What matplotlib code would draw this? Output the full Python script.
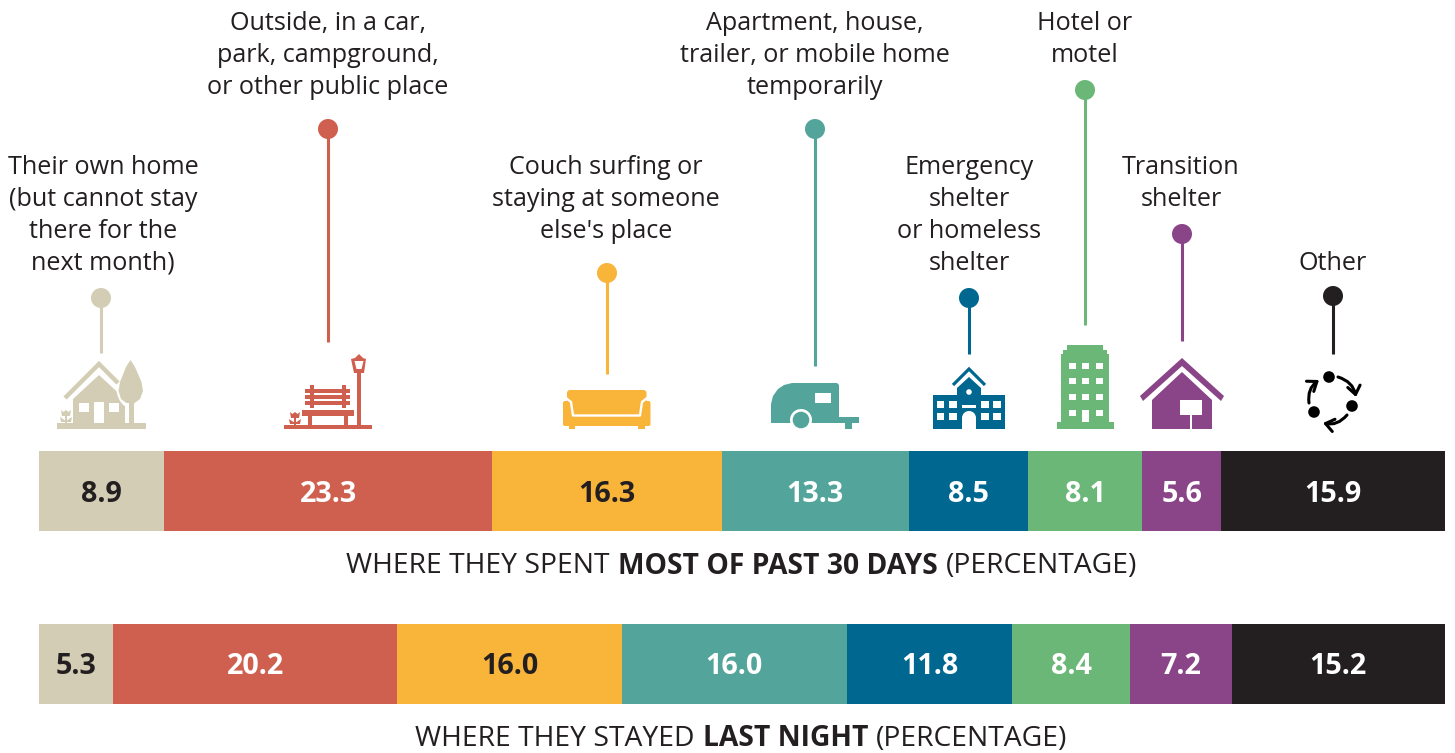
import numpy as np
import matplotlib
matplotlib.use("Agg")
import matplotlib.pyplot as plt
from matplotlib.patches import Rectangle, Polygon, Circle, Ellipse, FancyArrowPatch, FancyBboxPatch

plt.rcParams["font.family"] = ["Open Sans", "Noto Sans", "DejaVu Sans"]

# values
past_30_days = [8.9, 23.3, 16.3, 13.3, 8.5, 8.1, 5.6, 15.9]
last_night = [5.3, 20.2, 16.0, 16.0, 11.8, 8.4, 7.2, 15.2]
labels = [
    "Their own home\n(but cannot stay\nthere for the\nnext month)",
    "Outside, in a car,\npark, campground,\nor other public place",
    "Couch surfing or\nstaying at someone\nelse's place",
    "Apartment, house,\ntrailer, or mobile home\ntemporarily",
    "Emergency\nshelter\nor homeless\nshelter",
    "Hotel or\nmotel",
    "Transition\nshelter",
    "Other",
]
colors = ["#D3CDB5", "#CF5F4E", "#F9B43A", "#53A59C", "#006890", "#6AB777", "#8A4488", "#231F20"]
value_colors = ["#231F20", "white", "#231F20", "white", "white", "white", "white", "white"]

# layout in pixels of the picture
stem_x = [101, 328, 607, 815, 969, 1085, 1182, 1333]
stem_top = [298, 129, 273, 129, 298, 90, 234, 296]
stem_bottom = [353, 342, 374, 366, 354, 325, 341, 354]
label_x = [103, 328, 606, 815, 969, 1085, 1181, 1333]
label_first_line = [167, 23, 167, 23, 167, 23, 167, 263]
LINE_H = 32
X0 = 39
BAR_W = 1406
TEXT_SIZE = 18.05
CAPTION_SIZE = 20.3
INK = "#231F20"

fig = plt.figure(figsize=(14.55, 7.53), dpi=100)
ax = fig.add_axes([0, 0, 1, 1])
ax.set_xlim(0, 1455)
ax.set_ylim(753, 0)
ax.axis("off")


def stacked(values, y, h):
    left = X0
    scale = BAR_W / sum(values)
    for v, c, tc in zip(values, colors, value_colors):
        w = v * scale
        ax.barh(y, w, height=h, left=left, color=c, linewidth=0)
        ax.text(left + w / 2, y + 3, f"{v:.1f}", ha="center", va="center",
                fontsize=20.7, fontweight="bold", color=tc)
        left += w


def caption(parts, cy, center):
    # normal / bold / normal pieces, centred together
    r = fig.canvas.get_renderer()
    items = [ax.text(0, cy, s, fontsize=CAPTION_SIZE, fontweight=w, color=INK, va="center")
             for s, w in parts]
    space = 8
    widths = [t.get_window_extent(r).width for t in items]
    x = center - (sum(widths) + space * (len(items) - 1)) / 2
    for t, w in zip(items, widths):
        t.set_x(x)
        x += w + space


def rect(x0, y0, x1, y1, c):
    ax.add_patch(Rectangle((x0, y0), x1 - x0, y1 - y0, facecolor=c, linewidth=0))


def poly(pts, c):
    ax.add_patch(Polygon(pts, closed=True, facecolor=c, linewidth=0))


def chevron(pts, c, lw):
    ax.plot([p[0] for p in pts], [p[1] for p in pts], color=c, lw=lw,
            solid_joinstyle="miter", solid_capstyle="butt")


def flower(cx, top, bottom, c):
    poly([(cx - 5, top), (cx - 2.5, top + 2), (cx, top), (cx + 2.5, top + 2), (cx + 5, top),
          (cx + 4, top + 6), (cx - 4, top + 6)], c)
    rect(cx - 0.8, top + 5, cx + 0.8, bottom, c)
    poly([(cx - 6, top + 7), (cx, bottom - 2), (cx + 6, top + 7), (cx + 5, bottom - 1), (cx - 5, bottom - 1)], c)


def icon_home(c):
    rect(57, 423, 146, 429, c)
    chevron([(65, 398), (99, 364), (118, 383)], c, 3.2)
    poly([(99, 375), (73, 399), (73, 423), (125, 423), (125, 399)], c)
    rect(79, 403, 89, 412, "white")
    rect(94, 402, 104, 423, "white")
    rect(109, 403, 119, 412, "white")
    ax.add_patch(Ellipse((130.5, 385), 29, 46, facecolor="white", linewidth=0))
    poly([(130.5, 360), (126, 367), (120, 382), (118.5, 391), (121, 399), (127, 403.5), (134, 403.5),
          (140, 399), (143, 391), (141.5, 382), (135, 367)], c)
    rect(125, 403, 129, 423, "white")
    rect(129, 403, 134, 423, c)
    flower(66, 410, 423, c)


def icon_bench(c):
    rect(284, 425, 372, 429, c)
    rect(357, 373, 361, 425, c)
    poly([(355, 358), (359, 354), (363, 358), (366, 359), (364, 373), (354, 373), (351, 359)], c)
    poly([(354.5, 361), (363.5, 361), (361.5, 369), (356.5, 369)], "white")
    for y0 in (389, 395, 401):
        rect(305, y0, 350, y0 + 4, c)
    rect(310, 385, 314, 408, c)
    rect(342, 385, 346, 408, c)
    rect(302, 410, 354, 416, c)
    rect(308, 416, 312, 425, c)
    rect(344, 416, 348, 425, c)
    flower(295, 412, 425, c)


def icon_sofa(c):
    ax.add_patch(FancyBboxPatch((567, 390), 79.5, 26, boxstyle="round,pad=0,rounding_size=3",
                                facecolor=c, linewidth=0))
    ax.add_patch(FancyBboxPatch((563, 401), 87.5, 25, boxstyle="round,pad=0,rounding_size=2",
                                facecolor=c, linewidth=0))
    ax.plot([566, 571, 573, 640, 642, 647], [398, 402, 415.5, 415.5, 402, 398], color="white", lw=1.7)
    rect(569, 426, 575, 429, c)
    rect(638, 426, 645, 429, c)


def icon_trailer(c):
    poly([(771, 423), (771, 404), (773, 396), (778, 389), (784, 385), (792, 383), (837, 383),
          (839, 385), (839, 423)], c)
    rect(839, 417, 859, 423, c)
    rect(845, 423, 852, 429, c)
    rect(815, 393, 831, 403, "white")
    ax.add_patch(Circle((801, 420), 11, facecolor="white", linewidth=0))
    ax.add_patch(Circle((801, 420), 8.3, facecolor=c, linewidth=0))


def icon_school(c):
    rect(933, 395, 1005, 429, c)
    poly([(957, 396), (957, 388), (969, 377), (981, 388), (981, 396)], c)
    chevron([(953, 385), (969, 369), (985, 385)], c, 2.3)
    ax.add_patch(Circle((969, 392), 2.8, facecolor="white", linewidth=0))
    for x0, x1 in [(937, 944), (949, 957), (981, 989), (993, 1001)]:
        for y0, y1 in [(401, 408), (413, 420)]:
            rect(x0, y0, x1, y1, "white")
    rect(962, 405, 976, 408, "white")
    rect(962, 418, 976, 429, "white")
    ax.add_patch(Circle((969, 418), 7, facecolor="white", linewidth=0))


def icon_hotel(c):
    poly([(1067, 345), (1103, 345), (1103, 350), (1107, 350), (1107, 354), (1109, 354), (1109, 422),
          (1114, 422), (1114, 429), (1057, 429), (1057, 422), (1061, 422), (1061, 354), (1063, 354),
          (1063, 350), (1067, 350)], c)
    for y0 in (363, 378, 394, 410):
        for x0 in (1069, 1082, 1096):
            rect(x0, y0, x0 + 6.5, y0 + 6, "white")
    rect(1082, 410, 1088.5, 422, "white")


def icon_transition(c):
    poly([(1182, 358), (1224, 396), (1221, 401), (1182, 366), (1143, 401), (1140, 396)], c)
    poly([(1182, 372), (1212, 400), (1212, 429), (1152, 429), (1152, 400)], c)
    rect(1180, 400, 1202, 415, "white")
    rect(1190, 415, 1192, 429, "white")


def icon_other(c):
    for cx, cy in [(1329, 377), (1352, 406), (1314, 412)]:
        ax.add_patch(Circle((cx, cy), 5.8, facecolor=c, linewidth=0))
    arrows = [((1338, 377), (1356, 397)), ((1347, 415), (1323, 423)), ((1309, 403), (1319, 380))]
    for a, b in arrows:
        ax.add_patch(FancyArrowPatch(a, b, connectionstyle="arc3,rad=-0.3",
                                     arrowstyle="->,head_length=4,head_width=3",
                                     color=c, lw=2.2, shrinkA=0, shrinkB=0, mutation_scale=1.5))


# lollipops and their labels
for i in range(8):
    ax.plot([stem_x[i], stem_x[i]], [stem_top[i], stem_bottom[i]], color=colors[i], lw=2.2, solid_capstyle="butt")
    ax.add_patch(Circle((stem_x[i], stem_top[i]), 10, facecolor=colors[i], linewidth=0, zorder=3))
    for j, line in enumerate(labels[i].split("\n")):
        ax.text(label_x[i], label_first_line[i] + j * LINE_H, line, ha="center", va="center",
                fontsize=TEXT_SIZE, color=INK)

icon_home(colors[0])
icon_bench(colors[1])
icon_sofa(colors[2])
icon_trailer(colors[3])
icon_school(colors[4])
icon_hotel(colors[5])
icon_transition(colors[6])
icon_other("black")

stacked(past_30_days, 491, 80)
stacked(last_night, 664, 80)

fig.canvas.draw()
caption([("WHERE THEY SPENT", "normal"), ("MOST OF PAST 30 DAYS", "bold"), ("(PERCENTAGE)", "normal")], 566, 741.5)
caption([("WHERE THEY STAYED", "normal"), ("LAST NIGHT", "bold"), ("(PERCENTAGE)", "normal")], 739, 741.5)

fig.savefig("out.png", dpi=100)
plt.close()
print("Saved out.png")
